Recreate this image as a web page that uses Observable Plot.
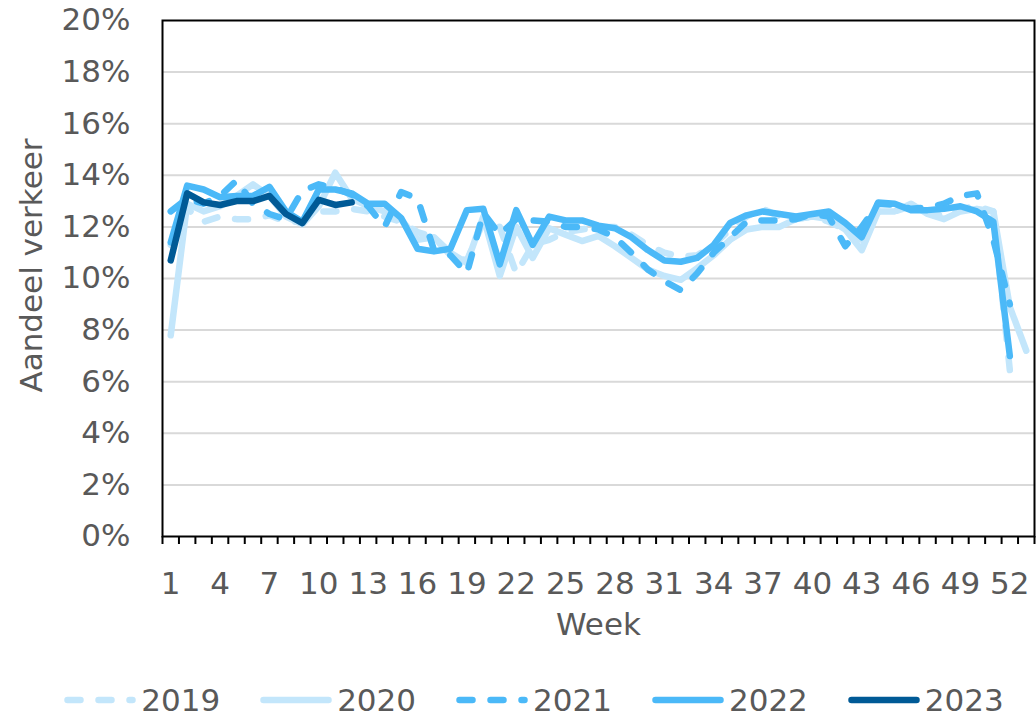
<!DOCTYPE html>
<html>
<head>
<meta charset="utf-8">
<script src="https://cdn.jsdelivr.net/npm/d3@7"></script>
<script src="https://cdn.jsdelivr.net/npm/@observablehq/plot@0.6"></script>
<style>
  body { margin: 0; background: white; }
  #chart svg { display: block; }
  #legend { display: flex; justify-content: center; align-items: center; gap: 40px; margin-top: 33px; height: 34px; padding-left: 32px;
            font-family: "DejaVu Sans", sans-serif; font-size: 31px; color: #595959; }
  #legend .item { display: flex; align-items: center; gap: 5px; }
</style>
</head>
<body>
<div id="chart"></div>
<div id="legend"></div>
<script>
const years = ["2019", "2020", "2021", "2022", "2023"];
const colors = ["#C3E6FB", "#C3E6FB", "#4BB9F8", "#4BB9F8", "#005A96"];
const dashed = [true, false, true, false, false];

const values2019 = [11.3, 12.7, 12.2, 12.4, 12.3, 12.3, 12.45, 12.2, 12.2, 12.6, 12.6, 12.7, 12.6, 12.4, 12.2, 11.8, 11.6, 10.9, 10.7, 12.2,
  12.0, 10.2, 11.3, 11.5, 11.8, 11.9, 12.0, 12.0, 11.7, 11.3, 11.0, 10.85, 10.9, 11.3, 11.9, 12.4, 12.7, 12.4, 12.3, 12.4,
  12.2, 11.9, 11.5, 12.6, 12.6, 12.8, 12.6, 12.4, 12.7, 12.8, 12.6, 6.45];
const values2020 = [7.8, 12.9, 12.6, 12.8, 13.2, 13.65, 13.2, 12.4, 12.1, 12.8, 14.1, 13.1, 12.8, 12.6, 12.3, 11.5, 11.6, 11.0, 10.6, 12.4,
  10.1, 12.0, 10.8, 11.95, 11.7, 11.45, 11.65, 11.25, 10.8, 10.35, 10.1, 9.95, 10.4, 10.9, 11.5, 11.9, 12.0, 12.0, 12.3, 12.4,
  12.3, 11.9, 11.1, 12.6, 12.6, 12.9, 12.5, 12.3, 12.6, 12.7, 12.6, 8.9, 7.2];
const values2021 = [12.6, 13.1, 12.9, 13.2, 13.8, 12.9, 12.5, 12.3, 13.4, 13.65, 13.5, 13.25, 12.8, 12.0, 13.35, 13.1, 11.1, 10.9, 10.2, 12.55,
  11.7, 12.3, 12.25, 12.2, 12.0, 12.0, 11.9, 11.6, 11.0, 10.35, 9.9, 9.55, 10.2, 11.0, 11.6, 12.2, 12.25, 12.25, 12.3, 12.5,
  12.4, 11.25, 12.0, 12.9, 12.85, 12.7, 12.75, 12.9, 13.2, 13.3, 11.5, 9.0];
const values2022 = [11.4, 13.6, 13.45, 13.15, 13.2, 13.2, 13.55, 12.6, 12.2, 13.45, 13.45, 13.3, 12.9, 12.9, 12.35, 11.15, 11.05, 11.15, 12.65, 12.7,
  10.55, 12.65, 11.3, 12.4, 12.25, 12.25, 12.05, 11.95, 11.6, 11.1, 10.7, 10.65, 10.8, 11.3, 12.15, 12.45, 12.6, 12.5, 12.4, 12.5,
  12.6, 12.15, 11.6, 12.95, 12.9, 12.65, 12.65, 12.7, 12.8, 12.6, 12.2, 7.0];
const values2023 = [10.7, 13.3, 12.95, 12.85, 13.0, 13.0, 13.2, 12.5, 12.15, 13.05, 12.85, 12.95];

const weekTicks = [1, 4, 7, 10, 13, 16, 19, 22, 25, 28, 31, 34, 37, 40, 43, 46, 49, 52];
const yTicks = [0, 2, 4, 6, 8, 10, 12, 14, 16, 18, 20];
const gridTicks = [2, 4, 6, 8, 10, 12, 14, 16, 18];
const weekCount = 53;

const seriesValues = [values2019, values2020, values2021, values2022, values2023];
const rows = years.flatMap((yr, s) => seriesValues[s].map((v, i) => ({year: yr, week: i + 1, value: v})));
const boundaries = d3.range(0.5, weekCount + 1, 1);
const dash = "13,18";
const font = "DejaVu Sans, sans-serif";

const lineMarks = years.map((yr, s) => Plot.line(rows.filter(d => d.year === yr), {
  x: "week", y: "value", stroke: colors[s], strokeWidth: 6.5,
  strokeDasharray: dashed[s] ? dash : null, strokeLinecap: "round", strokeLinejoin: "round"
}));

const chart = Plot.plot({
  width: 1036, height: 650,
  marginLeft: 162, marginRight: 2, marginTop: 20, marginBottom: 114,
  x: {domain: [0.5, weekCount + 0.5], label: null},
  y: {domain: [0, 20], label: null},
  style: {fontFamily: font, fontSize: "31px", color: "#595959", background: "white"},
  marks: [
    Plot.gridY(gridTicks, {stroke: "#D9D9D9", strokeOpacity: 1, strokeWidth: 2}),
    Plot.axisY(yTicks, {tickSize: 0, tickPadding: 32, tickFormat: d => d + "%", fontSize: 31, label: null}),
    Plot.axisX(weekTicks, {tickSize: 0, tickPadding: 35, fontSize: 31, label: null}),
    Plot.axisX(boundaries, {tickSize: 8, tickFormat: () => "", stroke: "black", strokeWidth: 2, label: null}),
    ...lineMarks,
    Plot.frame({stroke: "black", strokeWidth: 2}),
    Plot.text(["Week"], {frameAnchor: "bottom", dy: 98, fontSize: 31, fill: "#595959"}),
    Plot.text(["Aandeel verkeer"], {frameAnchor: "left", textAnchor: "middle", dx: -130, dy: -13, rotate: -90, fontSize: 31, fill: "#595959"})
  ]
});
document.getElementById("chart").append(chart);

const legend = document.getElementById("legend");
years.forEach((yr, s) => {
  const item = document.createElement("div");
  item.className = "item";
  item.innerHTML = `<svg width="72" height="12"><line x1="3.5" x2="68.5" y1="6" y2="6" stroke="${colors[s]}" stroke-width="6.5" stroke-linecap="round" ${dashed[s] ? `stroke-dasharray="${dash}"` : ""}/></svg><span>${yr}</span>`;
  legend.append(item);
});
</script>
</body>
</html>
